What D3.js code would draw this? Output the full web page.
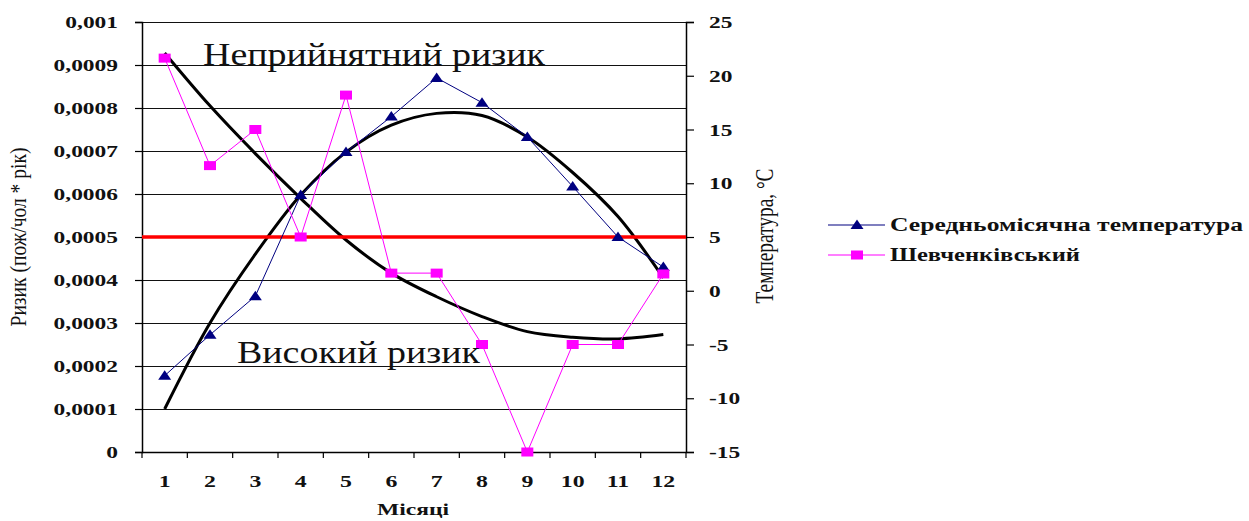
<!DOCTYPE html>
<html><head><meta charset="utf-8">
<script src="https://cdn.jsdelivr.net/npm/d3@7"></script>
<style>
html,body{margin:0;padding:0;background:#fff;}
svg{display:block;font-family:"Liberation Serif","Times New Roman",serif;}
</style>
</head><body>
<svg id="c" width="1249" height="521"></svg>
<script>
// ---------- data ----------
const months = ["1","2","3","4","5","6","7","8","9","10","11","12"];
const temperature = [-7.9, -4.1, -0.5, 8.9, 12.9, 16.2, 19.8, 17.5, 14.3, 9.7, 5.0, 2.2];
const riskShevchenkivskyi = [0.000916, 0.000666, 0.00075, 0.0005, 0.00083, 0.000416, 0.000416, 0.00025, 0, 0.00025, 0.00025, 0.000414];
const temperatureTrend = [-11.0, -3.0, 3.4, 8.9, 12.9, 15.4, 16.5, 16.3, 14.3, 11.0, 6.9, 1.2];
const riskTrend = [0.000928, 0.000805, 0.000694, 0.00059, 0.000493, 0.000416, 0.000361, 0.000315, 0.00028, 0.000267, 0.000263, 0.000273];
const riskThreshold = 0.0005;
const riskTicks = [0, 0.0001, 0.0002, 0.0003, 0.0004, 0.0005, 0.0006, 0.0007, 0.0008, 0.0009, 0.001];
const riskTickLabels = ["0","0,0001","0,0002","0,0003","0,0004","0,0005","0,0006","0,0007","0,0008","0,0009","0,001"];
const tempTicks = [-15, -10, -5, 0, 5, 10, 15, 20, 25];
const tempTickLabels = ["-15","-10","-5","0","5","10","15","20","25"];
const seriesNames = ["Середньомісячна температура", "Шевченківський"];
const annotations = ["Неприйнятний ризик", "Високий ризик"];
const leftTitle = "Ризик (пож/чол * рік)";
const rightTitle = "Температура, °С";
const xTitle = "Місяці";

// ---------- layout ----------
const svg = d3.select("#c");
const L = 142, R = 686, T = 22, B = 452;
const x = d3.scaleBand().domain(months).range([L, R]).padding(0);
const cx = m => x(m) + x.bandwidth() / 2;
const yRisk = d3.scaleLinear().domain([0, 0.001]).range([B, T]);
const yTemp = d3.scaleLinear().domain([-15, 25]).range([B, T]);

function stretch(sel, f) {
  sel.each(function () {
    const len = this.getComputedTextLength();
    this.setAttribute("textLength", len * f);
    this.setAttribute("lengthAdjust", "spacingAndGlyphs");
  });
}
function fit(sel, w) {
  sel.attr("textLength", w).attr("lengthAdjust", "spacingAndGlyphs");
}

// gridlines
svg.append("g").selectAll("line").data(riskTicks).join("line")
  .attr("x1", L).attr("x2", R)
  .attr("y1", d => Math.round(yRisk(d)) + 0.5).attr("y2", d => Math.round(yRisk(d)) + 0.5)
  .attr("stroke", "#111").attr("stroke-width", 1.2);

// left axis
const gl = svg.append("g").attr("transform", `translate(${L},0)`)
  .call(d3.axisLeft(yRisk).tickValues(riskTicks).tickFormat((d, i) => riskTickLabels[i]).tickSize(7).tickPadding(17));
gl.select(".domain").attr("stroke", "#000").attr("stroke-width", 1.5);
gl.selectAll(".tick line").attr("stroke", "#000").attr("stroke-width", 1.2);
gl.selectAll("text").attr("font-size", 16.5).attr("font-weight", "bold").attr("fill", "#111")
  .attr("font-family", "Liberation Serif").attr("dy", "0.34em");
stretch(gl.selectAll("text"), 1.42);

// right axis
const gr = svg.append("g").attr("transform", `translate(${R},0)`)
  .call(d3.axisRight(yTemp).tickValues(tempTicks).tickFormat((d, i) => tempTickLabels[i]).tickSize(8).tickPadding(15));
gr.select(".domain").attr("stroke", "#000").attr("stroke-width", 1.5);
gr.selectAll(".tick line").attr("stroke", "#000").attr("stroke-width", 1.2);
gr.selectAll("text").attr("font-size", 16.5).attr("font-weight", "bold").attr("fill", "#111")
  .attr("font-family", "Liberation Serif").attr("dy", "0.34em");
stretch(gr.selectAll("text"), 1.42);

// bottom axis (ticks at category boundaries)
const gb = svg.append("g").attr("transform", `translate(0,${B})`)
  .call(d3.axisBottom(x).tickSize(0).tickPadding(0));
gb.select(".domain").attr("stroke", "#000").attr("stroke-width", 1.5).attr("d", `M${L},0.5H${R}`);
gb.selectAll(".tick text").attr("y", 35).attr("dy", 0).attr("font-size", 17).attr("font-weight", "bold")
  .attr("fill", "#111").attr("font-family", "Liberation Serif");
stretch(gb.selectAll(".tick text"), 1.4);
const bounds = months.map(m => x(m)).concat([R]);
gb.append("g").selectAll("line").data(bounds).join("line")
  .attr("x1", d => d).attr("x2", d => d).attr("y1", 0).attr("y2", 6)
  .attr("stroke", "#000").attr("stroke-width", 1.2);

// trend lines
const trendRisk = d3.line().x((d, i) => cx(months[i])).y(d => yRisk(d)).curve(d3.curveCatmullRom.alpha(0.5));
const trendTemp = d3.line().x((d, i) => cx(months[i])).y(d => yTemp(d)).curve(d3.curveCatmullRom.alpha(0.5));
svg.append("path").attr("d", trendRisk(riskTrend)).attr("fill", "none").attr("stroke", "#000").attr("stroke-width", 3);
svg.append("path").attr("d", trendTemp(temperatureTrend)).attr("fill", "none").attr("stroke", "#000").attr("stroke-width", 3);

// threshold line
svg.append("line").attr("x1", L).attr("x2", R)
  .attr("y1", yRisk(riskThreshold)).attr("y2", yRisk(riskThreshold))
  .attr("stroke", "#ff0000").attr("stroke-width", 3.5);

// temperature series
const lineTemp = d3.line().x((d, i) => cx(months[i])).y(d => yTemp(d));
svg.append("path").attr("d", lineTemp(temperature)).attr("fill", "none").attr("stroke", "#000080").attr("stroke-width", 1);
const tri = "M0,-5.5L6.5,4L-6.5,4Z";
svg.append("g").selectAll("path").data(temperature).join("path")
  .attr("d", tri).attr("transform", (d, i) => `translate(${cx(months[i])},${yTemp(d)})`)
  .attr("fill", "#000080");

// risk series
const lineRisk = d3.line().x((d, i) => cx(months[i])).y(d => yRisk(d));
svg.append("path").attr("d", lineRisk(riskShevchenkivskyi)).attr("fill", "none").attr("stroke", "#ff00ff").attr("stroke-width", 1);
svg.append("g").selectAll("rect").data(riskShevchenkivskyi).join("rect")
  .attr("x", (d, i) => cx(months[i]) - 6).attr("y", d => yRisk(d) - 4.5)
  .attr("width", 12).attr("height", 9).attr("fill", "#ff00ff");

// annotations
fit(svg.append("text").attr("x", 203).attr("y", 65).attr("font-size", 31).attr("fill", "#111")
  .text(annotations[0]), 342);
fit(svg.append("text").attr("x", 237).attr("y", 363).attr("font-size", 31).attr("fill", "#111")
  .text(annotations[1]), 243);

// axis titles
fit(svg.append("text").attr("transform", "translate(26,237) scale(1.3,1) rotate(-90)")
  .attr("text-anchor", "middle").attr("font-size", 17).attr("fill", "#111").text(leftTitle), 179);
fit(svg.append("text").attr("transform", "translate(773,236) scale(1.35,1) rotate(-90)")
  .attr("text-anchor", "middle").attr("font-size", 18).attr("fill", "#111").text(rightTitle), 135);
fit(svg.append("text").attr("x", 413).attr("y", 515).attr("text-anchor", "middle")
  .attr("font-size", 16).attr("font-weight", "bold").attr("fill", "#111").text(xTitle), 72);

// legend
const lg = svg.append("g");
const legendY = [225, 255];
const legendColors = ["#000080", "#ff00ff"];
const legendW = [353, 190];
seriesNames.forEach((name, i) => {
  const yy = legendY[i];
  lg.append("line").attr("x1", 828).attr("x2", 885).attr("y1", yy).attr("y2", yy)
    .attr("stroke", legendColors[i]).attr("stroke-width", 1.2);
  if (i === 0) {
    lg.append("path").attr("d", tri).attr("transform", `translate(857,${yy})`).attr("fill", legendColors[i]);
  } else {
    lg.append("rect").attr("x", 851).attr("y", yy - 4.5).attr("width", 12).attr("height", 9).attr("fill", legendColors[i]);
  }
  fit(lg.append("text").attr("x", 890).attr("y", yy + 5.5).attr("font-size", 18).attr("font-weight", "bold")
    .attr("fill", "#111").text(name), legendW[i]);
});
</script>
</body></html>
